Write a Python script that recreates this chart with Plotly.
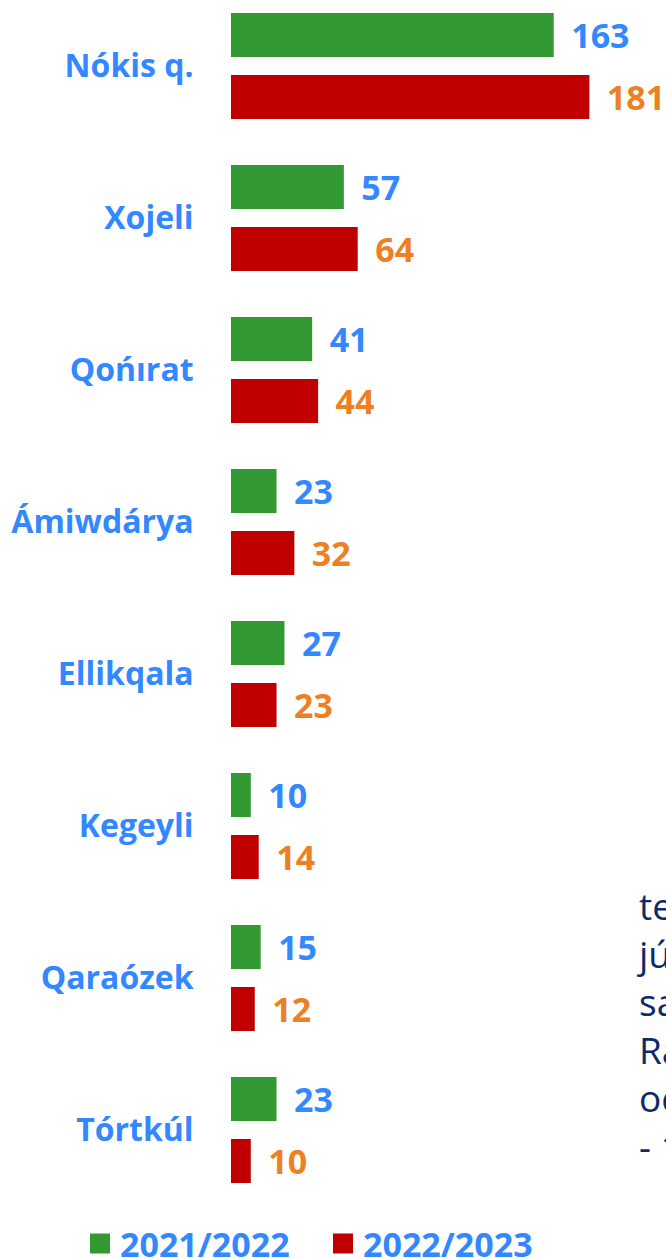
import plotly.graph_objects as go

# ---- data ----
categories = ["Nókis q.", "Xojeli", "Qońırat", "Ámiwdárya", "Ellikqala", "Kegeyli", "Qaraózek", "Tórtkúl"]
values_2021_2022 = [163, 57, 41, 23, 27, 10, 15, 23]
values_2022_2023 = [181, 64, 44, 32, 23, 14, 12, 10]
series_names = ["2021/2022", "2022/2023"]
side_text_lines = ["te", "jú", "sa", "Ra", "oc", "- 1"]

# ---- styles ----
GREEN = "#339933"
RED = "#C00000"
BLUE = "#3388FF"
ORANGE = "#EE7F22"
NAVY = "#0E2A6A"
FONT = "Open Sans"

W, H = 666, 1259
ML, MR, MT, MB = 231, 0, 0, 59
plot_w = W - ML - MR
plot_h = H - MT - MB
band_px = 152.0
first_center_px = 66.0
top_idx = -first_center_px / band_px
bottom_idx = top_idx + plot_h / band_px
px_per_unit = 1.98
x_max = plot_w / px_per_unit

fig = go.Figure()

label_tpl = "\u00a0\u2009%{x}"
fig.add_trace(go.Bar(
    y=categories, x=values_2021_2022, orientation="h", name=series_names[0],
    marker=dict(color=GREEN, line=dict(width=0)),
    texttemplate=label_tpl, textposition="outside", constraintext="none",
    textfont=dict(family=FONT, size=34, color=BLUE, weight="bold"),
    cliponaxis=False, showlegend=False, hoverinfo="skip",
))
fig.add_trace(go.Bar(
    y=categories, x=values_2022_2023, orientation="h", name=series_names[1],
    marker=dict(color=RED, line=dict(width=0)),
    texttemplate=label_tpl, textposition="outside", constraintext="none",
    textfont=dict(family=FONT, size=34, color=ORANGE, weight="bold"),
    cliponaxis=False, showlegend=False, hoverinfo="skip",
))

# legend proxies (larger square swatches than bar legend icons)
for name, col in zip(series_names, [GREEN, RED]):
    fig.add_trace(go.Scatter(
        x=[None], y=[None], mode="markers", name=name,
        marker=dict(symbol="square", size=16, color=col, line=dict(color=col, width=4)),
        showlegend=True, hoverinfo="skip",
    ))

fig.add_annotation(
    xref="paper", yref="paper",
    x=(634 - ML) / plot_w, y=(plot_h - 878) / plot_h,
    xanchor="left", yanchor="top", align="left", showarrow=False,
    text="<br>".join(side_text_lines),
    font=dict(family=FONT, size=37, color=NAVY),
)

fig.update_layout(
    width=W, height=H,
    margin=dict(l=ML, r=MR, t=MT, b=MB, pad=0, autoexpand=False),
    paper_bgcolor="white", plot_bgcolor="white",
    barmode="group", bargap=0.184, bargroupgap=0.29,
    showlegend=True,
    legend=dict(
        orientation="h", x=(80 - ML) / plot_w, xanchor="left",
        y=-15 / plot_h, yanchor="top",
        font=dict(family=FONT, size=34, color=BLUE, weight="bold"),
        itemclick=False, itemdoubleclick=False, bgcolor="rgba(0,0,0,0)",
        tracegroupgap=0, itemwidth=30, entrywidth=198, entrywidthmode="pixels",
    ),
    xaxis=dict(visible=False, range=[0, x_max], fixedrange=True),
    yaxis=dict(
        type="category", categoryorder="array", categoryarray=categories,
        range=[bottom_idx, top_idx], showgrid=False, zeroline=False, showline=False,
        ticks="outside", ticklen=30, tickcolor="rgba(0,0,0,0)",
        tickfont=dict(family=FONT, size=32, color=BLUE, weight="bold"),
        fixedrange=True,
    ),
)

fig.write_html(
    "out.html",
    config={"displayModeBar": False},
    post_script="document.documentElement.style.margin='0';document.body.style.margin='0';"
                "document.documentElement.style.overflow='hidden';document.body.style.overflow='hidden';",
)
